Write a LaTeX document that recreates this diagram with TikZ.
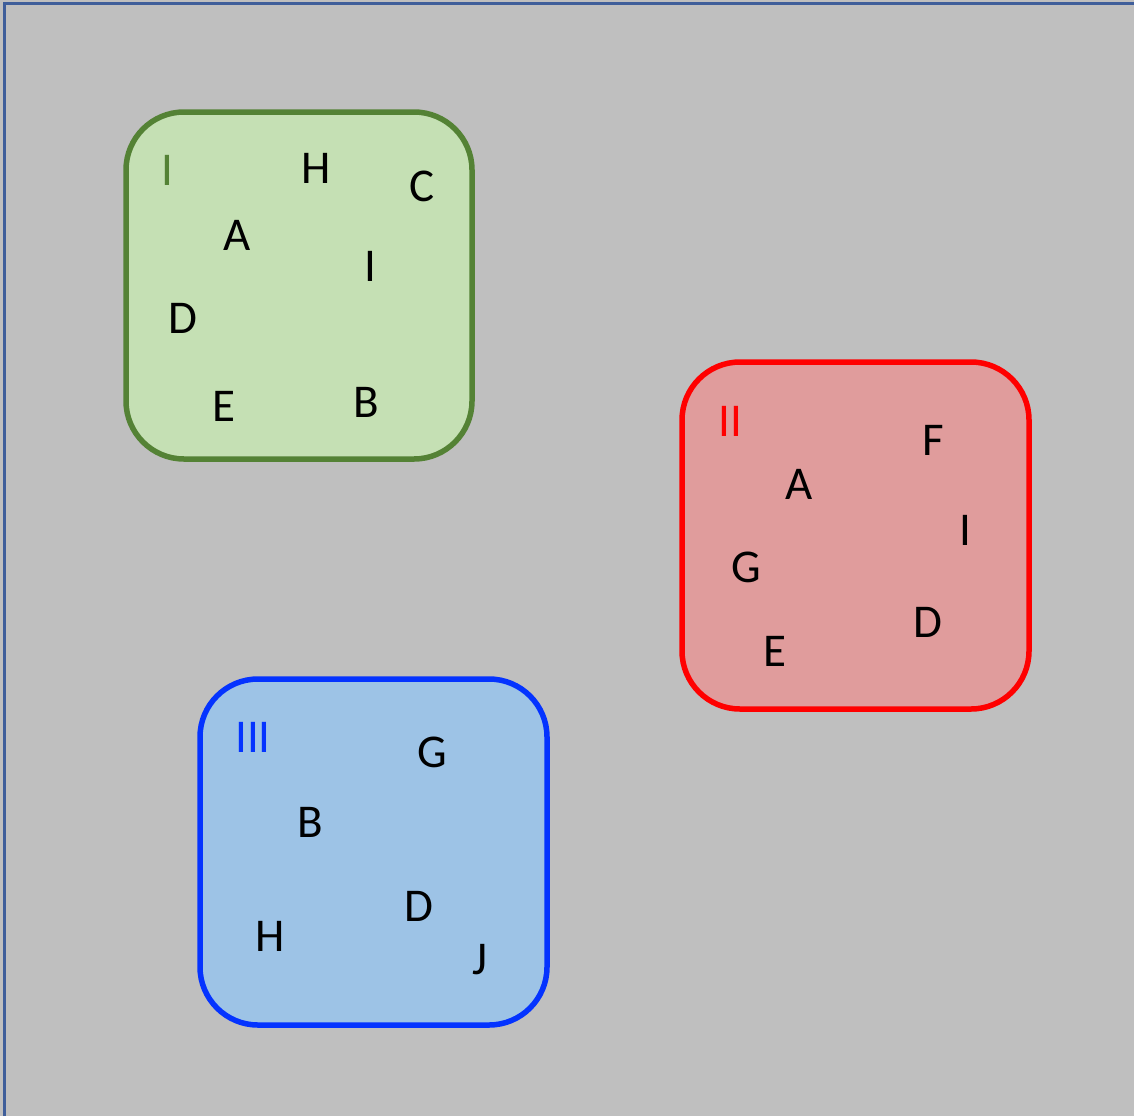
\documentclass[tikz,border=0pt]{standalone}
\usepackage{fontspec}
\setmainfont{Carlito}
\definecolor{bg}{HTML}{BFBFBF}
\definecolor{frame}{HTML}{3F5E9A}
\definecolor{gstroke}{HTML}{548235}
\definecolor{gfill}{HTML}{C5E0B4}
\definecolor{rstroke}{HTML}{FF0000}
\definecolor{rfill}{HTML}{E09C9C}
\definecolor{bstroke}{HTML}{0433FF}
\definecolor{bfill}{HTML}{9DC3E6}
\begin{document}
\begin{tikzpicture}[x=1pt,y=-1pt,
  setbox/.style={line width=5.5pt, rounded corners=58pt},
  lbl/.style={font=\fontsize{47}{56}\selectfont, inner sep=0pt, anchor=center}]
\useasboundingbox (0,0) rectangle (1134,1116);
\fill[bg] (0,0) rectangle (1134,1116);
\draw[frame, line width=3pt] (4,1116) coordinate (fb) -- (4,4) coordinate (fc) -- (1134,4) coordinate (fr);
% set I
\draw[setbox, draw=gstroke, fill=gfill] (126,112) rectangle (472,459);
\node[lbl, text=gstroke] (g0) at (167,170) {I};
\node[lbl] (gH) at (316,168) {H};
\node[lbl] (gC) at (422,186) {C};
\node[lbl] (gA) at (237,235) {A};
\node[lbl] (gI) at (370,266) {I};
\node[lbl] (gD) at (183,318) {D};
\node[lbl] (gE) at (224,406) {E};
\node[lbl] (gB) at (366,402) {B};
% set II
\draw[setbox, draw=rstroke, fill=rfill] (682,362) rectangle (1029,709);
\node[lbl, text=rstroke] (r0) at (730,421) {II};
\node[lbl] (rF) at (933,440) {F};
\node[lbl] (rA) at (799,484) {A};
\node[lbl] (rI) at (965,530) {I};
\node[lbl] (rG) at (746,567) {G};
\node[lbl] (rD) at (928,622) {D};
\node[lbl] (rE) at (775,651) {E};
% set III
\draw[setbox, draw=bstroke, fill=bfill] (200,679) rectangle (547,1025);
\node[lbl, text=bstroke] (b0) at (253,737) {III};
\node[lbl] (bG) at (432,752) {G};
\node[lbl] (bB) at (310,822) {B};
\node[lbl] (bD) at (419,906) {D};
\node[lbl] (bH) at (270,936) {H};
\node[lbl] (bJ) at (480,960) {J};
\end{tikzpicture}
\end{document}
